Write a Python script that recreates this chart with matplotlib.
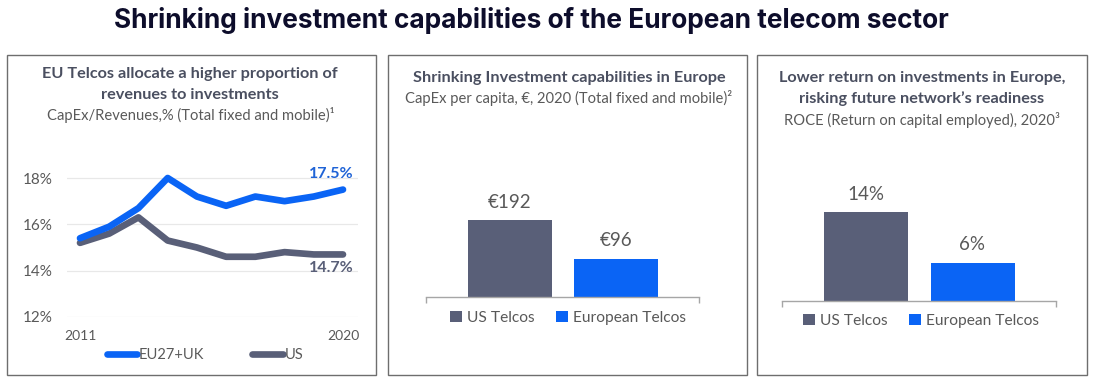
import matplotlib
matplotlib.use("Agg")
import matplotlib.pyplot as plt
from matplotlib.patches import Rectangle
from matplotlib.lines import Line2D
from matplotlib.patches import Patch

# ---- data ----
years = [2011, 2012, 2013, 2014, 2015, 2016, 2017, 2018, 2019, 2020]
eu_capex_rev = [15.4, 15.9, 16.7, 18.0, 17.2, 16.8, 17.2, 17.0, 17.2, 17.5]
us_capex_rev = [15.2, 15.6, 16.3, 15.3, 15.0, 14.6, 14.6, 14.8, 14.7, 14.7]
y_ticks = [12, 14, 16, 18]
x_tick_years = [2011, 2020]

bar_categories = ["US Telcos", "European Telcos"]
capex_per_capita = [192, 96]
roce = [14, 6]

# ---- style ----
W, H = 1095, 385
BLUE = "#0A64F5"
BLUE_TXT = "#1F63D6"
GREY = "#595F78"
TXT = "#595959"
TITLE_TXT = "#4A4F60"
FONT = "Lato"
TITLE_FS = 11.7
SUB_FS = 10.6
plt.rcParams["font.family"] = [FONT, "DejaVu Sans"]

fig = plt.figure(figsize=(W / 100, H / 100), dpi=100)
fig.patch.set_facecolor("white")


def fx(x):
    return x / W


def fy(y):
    return 1 - y / H


def add_ax(x0, y0, x1, y1):
    return fig.add_axes([fx(x0), fy(y1), fx(x1 - x0), (y1 - y0) / H])


def box(x0, y0, x1, y1):
    fig.patches.append(Rectangle((fx(x0), fy(y1)), fx(x1 - x0), (y1 - y0) / H,
                                 transform=fig.transFigure, fill=False,
                                 edgecolor="#6E6E6E", linewidth=1.0))


# main title
fig.text(fx(531), fy(21), "Shrinking investment capabilities of the European telecom sector",
         ha="center", va="center", fontsize=18.9, fontweight="bold", color="#0D0D2B",
         family=["Inter", "DejaVu Sans"])

# panel boxes
box(7, 55, 376, 375)
box(388, 55, 747, 375)
box(757, 55, 1087, 375)

# ---- panel 1: line chart ----
fig.text(fx(190), fy(74), "EU Telcos allocate a higher proportion of", ha="center", va="center",
         fontsize=TITLE_FS, fontweight="bold", color=TITLE_TXT)
fig.text(fx(190), fy(95), "revenues to investments", ha="center", va="center",
         fontsize=TITLE_FS, fontweight="bold", color=TITLE_TXT)
fig.text(fx(191), fy(115), "CapEx/Revenues,% (Total fixed and mobile)\u00b9", ha="center", va="center",
         fontsize=SUB_FS, color=TXT)

ax1 = add_ax(67, 150, 358, 317)
px_per_pct = (317 - 178) / 6.0
ax1.set_ylim(12, 12 + (317 - 150) / px_per_pct)
ppy = (343 - 80) / 9.0
ax1.set_xlim(2011 - 13 / ppy, 2020 + 15 / ppy)
ax1.plot(years, eu_capex_rev, color=BLUE, lw=4.8, solid_capstyle="round",
         solid_joinstyle="round", label="EU27+UK", zorder=3)
ax1.plot(years, us_capex_rev, color=GREY, lw=4.8, solid_capstyle="round",
         solid_joinstyle="round", label="US", zorder=2)
ax1.set_yticks(y_ticks)
ax1.set_yticklabels([f"{v}%" for v in y_ticks])
ax1.set_xticks(x_tick_years)
ax1.set_xticklabels([str(v) for v in x_tick_years])
ax1.grid(axis="y", color="#E8E8E8", lw=0.9)
ax1.set_axisbelow(True)
for s in ax1.spines.values():
    s.set_visible(False)
ax1.tick_params(axis="y", length=0, pad=10, labelsize=11, labelcolor=TXT)
ax1.tick_params(axis="x", length=0, pad=9, labelsize=10, labelcolor=TXT)
ax1.text(years[-1] + 0.35, eu_capex_rev[-1] + 0.35, f"{eu_capex_rev[-1]}%", ha="right", va="bottom",
         fontsize=11.5, fontweight="bold", color=BLUE_TXT)
ax1.text(years[-1] + 0.35, us_capex_rev[-1] - 0.3, f"{us_capex_rev[-1]}%", ha="right", va="top",
         fontsize=11.5, fontweight="bold", color=GREY)
ax1.patch.set_alpha(0)
fig.legend(handles=[Line2D([], [], color=BLUE, lw=4.8, solid_capstyle="round", label="EU27+UK"),
                    Line2D([], [], color=GREY, lw=4.8, solid_capstyle="round", label="US")],
           loc="center", bbox_to_anchor=(fx(205), fy(355)), ncol=2, frameon=False,
           fontsize=10.5, labelcolor=TXT, handlelength=2.1, handletextpad=0.1, columnspacing=3.3)


# ---- bar panels ----
def bar_panel(x_left, x_right, base_y, c_us, c_eu, vals, px_per_unit, labels, title_lines, title_ys,
              sub, sub_y, cx, leg_y):
    for t, yy in zip(title_lines, title_ys):
        fig.text(fx(cx), fy(yy), t, ha="center", va="center", fontsize=TITLE_FS,
                 fontweight="bold", color=TITLE_TXT)
    fig.text(fx(cx), fy(sub_y), sub, ha="center", va="center", fontsize=SUB_FS, color=TXT)
    top = 140
    ax = add_ax(x_left, top, x_right, base_y)
    spacing = c_eu - c_us
    ax.set_xlim((x_left - c_us) / spacing, 1 + (x_right - c_eu) / spacing)
    ax.set_ylim(0, (base_y - top) / px_per_unit)
    bars = ax.bar([0, 1], vals, width=84 / spacing, color=[GREY, BLUE])
    for b, lab in zip(bars, labels):
        ax.text(b.get_x() + b.get_width() / 2, b.get_height() + 18 / px_per_unit, lab,
                ha="center", va="center", fontsize=13.5, color=TXT)
    for k in ["top", "left", "right"]:
        ax.spines[k].set_visible(False)
    ax.spines["bottom"].set_color("#A6A6A6")
    ax.spines["bottom"].set_linewidth(1.0)
    ax.set_yticks([])
    xl = ax.get_xlim()
    ax.set_xticks(list(xl))
    ax.set_xticklabels(["", ""])
    ax.tick_params(axis="x", length=4, color="#A6A6A6", width=1.0)
    ax.patch.set_alpha(0)
    fig.legend(handles=[Patch(facecolor=GREY, label=bar_categories[0]),
                        Patch(facecolor=BLUE, label=bar_categories[1])],
               loc="center", bbox_to_anchor=(fx(cx - 1), fy(leg_y)), ncol=2, frameon=False,
               fontsize=11.2, labelcolor=TXT, handlelength=0.75, handleheight=0.75,
               handletextpad=0.3, columnspacing=1.4)


bar_panel(426, 699, 297, 510, 616, capex_per_capita, 77 / 192,
          [f"\u20ac{v}" for v in capex_per_capita],
          ["Shrinking Investment capabilities in Europe"], [78],
          "CapEx per capita, \u20ac, 2020 (Total fixed and mobile)\u00b2", 98, 569, 318)

bar_panel(782, 1056, 301, 866, 972.5, roce, 89 / 14,
          [f"{v}%" for v in roce],
          ["Lower return on investments in Europe,", "risking future network\u2019s readiness"], [78, 99],
          "ROCE (Return on capital employed), 2020\u00b3", 120, 922, 321)

fig.savefig("out.png", dpi=100, facecolor="white")
